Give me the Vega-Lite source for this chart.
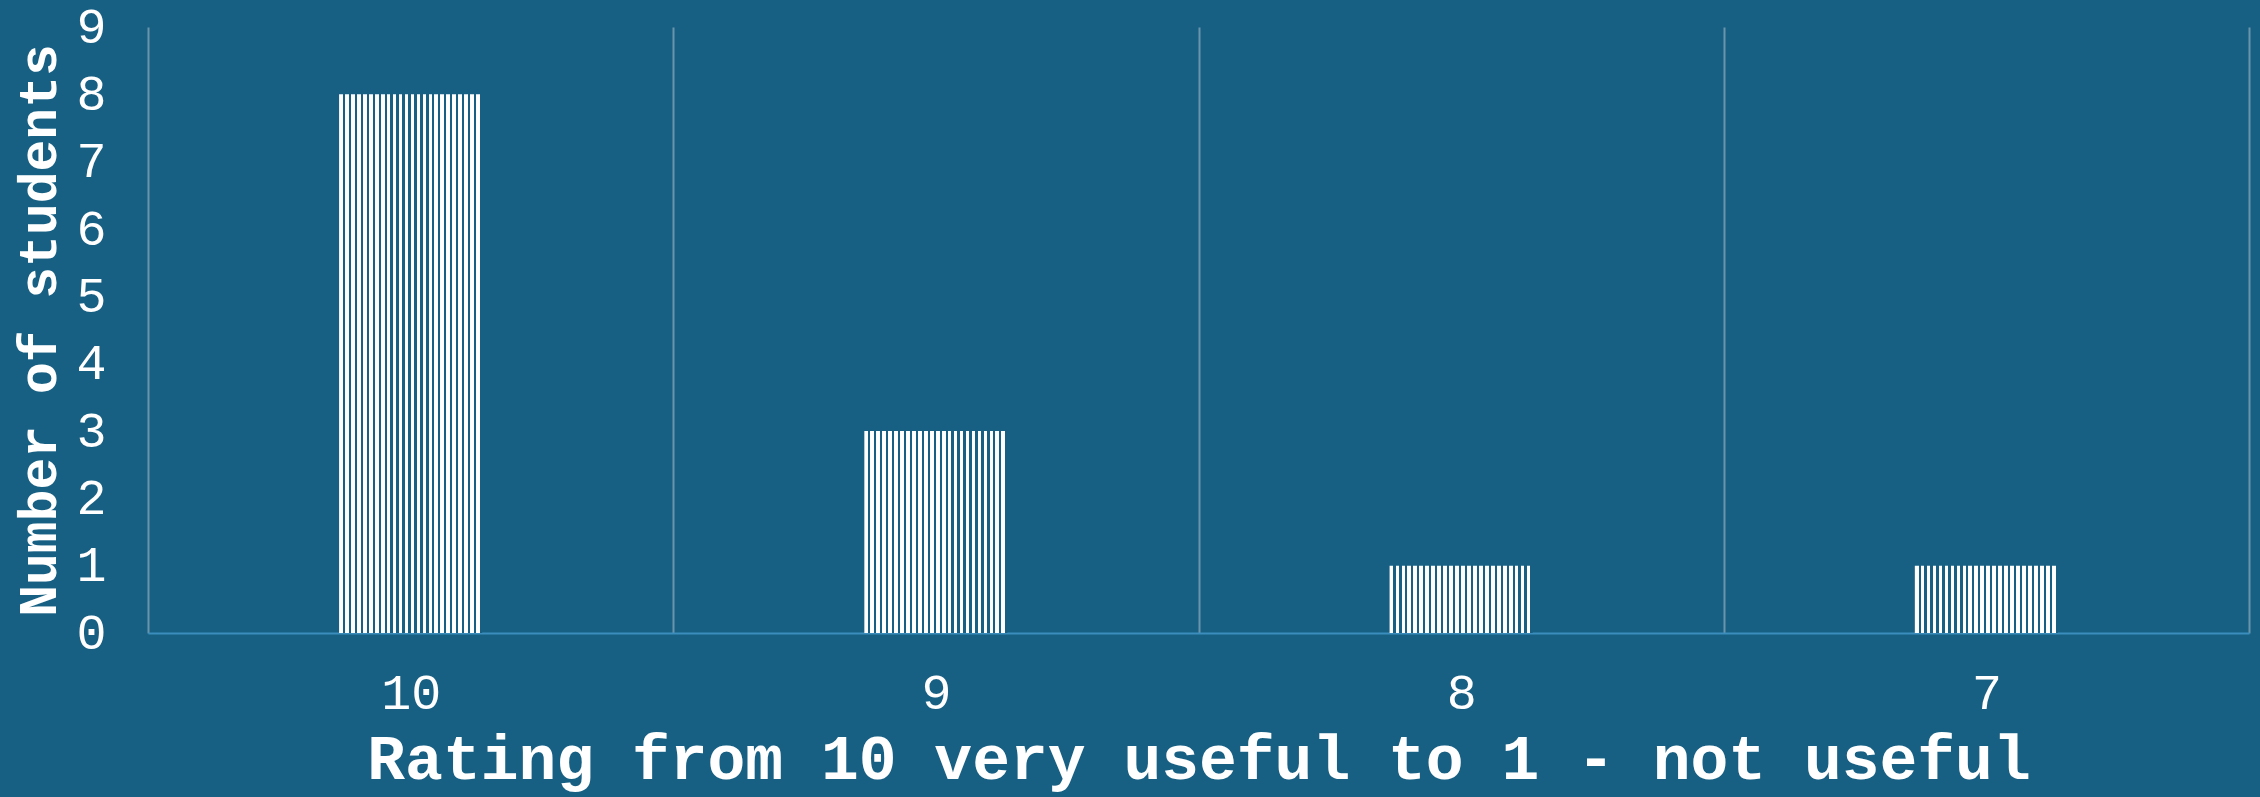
{
  "$schema": "https://vega.github.io/schema/vega-lite/v6.json",
  "autosize": {"type": "none"},
  "width": 2101,
  "height": 606,
  "padding": {"left": 148, "top": 27, "right": 11, "bottom": 164},
  "background": "#176083",
  "config": {
    "view": {"stroke": null},
    "font": "Liberation Mono"
  },
  "data": {
    "values": [
      {"rating": "10", "students": 8},
      {"rating": "9", "students": 3},
      {"rating": "8", "students": 1},
      {"rating": "7", "students": 1}
    ]
  },
  "mark": {
    "type": "bar",
    "width": {"band": 0.2724},
    "fill": {
      "gradient": "linear",
      "x1": 0, "y1": 0, "x2": 1, "y2": 0,
      "stops": [
        {"offset": 0, "color": "#ffffff"}, {"offset": 0.0258, "color": "#ffffff"}, {"offset": 0.0258, "color": "#176083"}, {"offset": 0.0417, "color": "#176083"},
        {"offset": 0.0417, "color": "#ffffff"}, {"offset": 0.0675, "color": "#ffffff"}, {"offset": 0.0675, "color": "#176083"}, {"offset": 0.0833, "color": "#176083"},
        {"offset": 0.0833, "color": "#ffffff"}, {"offset": 0.1092, "color": "#ffffff"}, {"offset": 0.1092, "color": "#176083"}, {"offset": 0.125, "color": "#176083"},
        {"offset": 0.125, "color": "#ffffff"}, {"offset": 0.1508, "color": "#ffffff"}, {"offset": 0.1508, "color": "#176083"}, {"offset": 0.1667, "color": "#176083"},
        {"offset": 0.1667, "color": "#ffffff"}, {"offset": 0.1925, "color": "#ffffff"}, {"offset": 0.1925, "color": "#176083"}, {"offset": 0.2083, "color": "#176083"},
        {"offset": 0.2083, "color": "#ffffff"}, {"offset": 0.2342, "color": "#ffffff"}, {"offset": 0.2342, "color": "#176083"}, {"offset": 0.25, "color": "#176083"},
        {"offset": 0.25, "color": "#ffffff"}, {"offset": 0.2758, "color": "#ffffff"}, {"offset": 0.2758, "color": "#176083"}, {"offset": 0.2917, "color": "#176083"},
        {"offset": 0.2917, "color": "#ffffff"}, {"offset": 0.3175, "color": "#ffffff"}, {"offset": 0.3175, "color": "#176083"}, {"offset": 0.3333, "color": "#176083"},
        {"offset": 0.3333, "color": "#ffffff"}, {"offset": 0.3592, "color": "#ffffff"}, {"offset": 0.3592, "color": "#176083"}, {"offset": 0.375, "color": "#176083"},
        {"offset": 0.375, "color": "#ffffff"}, {"offset": 0.4008, "color": "#ffffff"}, {"offset": 0.4008, "color": "#176083"}, {"offset": 0.4167, "color": "#176083"},
        {"offset": 0.4167, "color": "#ffffff"}, {"offset": 0.4425, "color": "#ffffff"}, {"offset": 0.4425, "color": "#176083"}, {"offset": 0.4583, "color": "#176083"},
        {"offset": 0.4583, "color": "#ffffff"}, {"offset": 0.4842, "color": "#ffffff"}, {"offset": 0.4842, "color": "#176083"}, {"offset": 0.5, "color": "#176083"},
        {"offset": 0.5, "color": "#ffffff"}, {"offset": 0.5258, "color": "#ffffff"}, {"offset": 0.5258, "color": "#176083"}, {"offset": 0.5417, "color": "#176083"},
        {"offset": 0.5417, "color": "#ffffff"}, {"offset": 0.5675, "color": "#ffffff"}, {"offset": 0.5675, "color": "#176083"}, {"offset": 0.5833, "color": "#176083"},
        {"offset": 0.5833, "color": "#ffffff"}, {"offset": 0.6092, "color": "#ffffff"}, {"offset": 0.6092, "color": "#176083"}, {"offset": 0.625, "color": "#176083"},
        {"offset": 0.625, "color": "#ffffff"}, {"offset": 0.6508, "color": "#ffffff"}, {"offset": 0.6508, "color": "#176083"}, {"offset": 0.6667, "color": "#176083"},
        {"offset": 0.6667, "color": "#ffffff"}, {"offset": 0.6925, "color": "#ffffff"}, {"offset": 0.6925, "color": "#176083"}, {"offset": 0.7083, "color": "#176083"},
        {"offset": 0.7083, "color": "#ffffff"}, {"offset": 0.7342, "color": "#ffffff"}, {"offset": 0.7342, "color": "#176083"}, {"offset": 0.75, "color": "#176083"},
        {"offset": 0.75, "color": "#ffffff"}, {"offset": 0.7758, "color": "#ffffff"}, {"offset": 0.7758, "color": "#176083"}, {"offset": 0.7917, "color": "#176083"},
        {"offset": 0.7917, "color": "#ffffff"}, {"offset": 0.8175, "color": "#ffffff"}, {"offset": 0.8175, "color": "#176083"}, {"offset": 0.8333, "color": "#176083"},
        {"offset": 0.8333, "color": "#ffffff"}, {"offset": 0.8592, "color": "#ffffff"}, {"offset": 0.8592, "color": "#176083"}, {"offset": 0.875, "color": "#176083"},
        {"offset": 0.875, "color": "#ffffff"}, {"offset": 0.9008, "color": "#ffffff"}, {"offset": 0.9008, "color": "#176083"}, {"offset": 0.9167, "color": "#176083"},
        {"offset": 0.9167, "color": "#ffffff"}, {"offset": 0.9425, "color": "#ffffff"}, {"offset": 0.9425, "color": "#176083"}, {"offset": 0.9583, "color": "#176083"},
        {"offset": 0.9583, "color": "#ffffff"}, {"offset": 0.9842, "color": "#ffffff"}, {"offset": 0.9842, "color": "#176083"}, {"offset": 1, "color": "#176083"}
      ]
    }
  },
  "encoding": {
    "x": {
      "field": "rating",
      "type": "nominal",
      "sort": ["10", "9", "8", "7"],
      "scale": {"paddingInner": 0, "paddingOuter": 0},
      "axis": {
        "title": "Rating from 10 very useful to 1 - not useful",
        "titleFont": "Liberation Mono",
        "titleFontWeight": "bold",
        "titleFontSize": 63,
        "titleColor": "#ffffff",
        "titleBaseline": "alphabetic",
        "titleX": 1050.5,
        "titleY": 145,
        "titleAlign": "center",
        "labelAngle": 0,
        "labelFont": "Liberation Mono",
        "labelFontSize": 50,
        "labelColor": "#ffffff",
        "labelBaseline": "alphabetic",
        "labelPadding": 75,
        "ticks": false,
        "tickSize": 0,
        "domainColor": "#3b8dbd",
        "domainWidth": 2,
        "grid": true,
        "tickBand": "extent",
        "gridColor": "#6a94ab",
        "gridWidth": 2
      }
    },
    "y": {
      "field": "students",
      "type": "quantitative",
      "scale": {"domain": [0, 9], "nice": false},
      "axis": {
        "values": [0, 1, 2, 3, 4, 5, 6, 7, 8, 9],
        "title": "Number of students",
        "titleFont": "Liberation Mono",
        "titleFontWeight": "bold",
        "titleFontSize": 53,
        "titleColor": "#ffffff",
        "titleAngle": -90,
        "titleBaseline": "alphabetic",
        "titleAlign": "center",
        "titleX": -93,
        "titleY": 303,
        "labelFont": "Liberation Mono",
        "labelFontSize": 50,
        "labelColor": "#ffffff",
        "labelBaseline": "middle",
        "labelAlign": "right",
        "labelPadding": 42,
        "ticks": false,
        "tickSize": 0,
        "domain": false,
        "grid": false
      }
    }
  }
}
